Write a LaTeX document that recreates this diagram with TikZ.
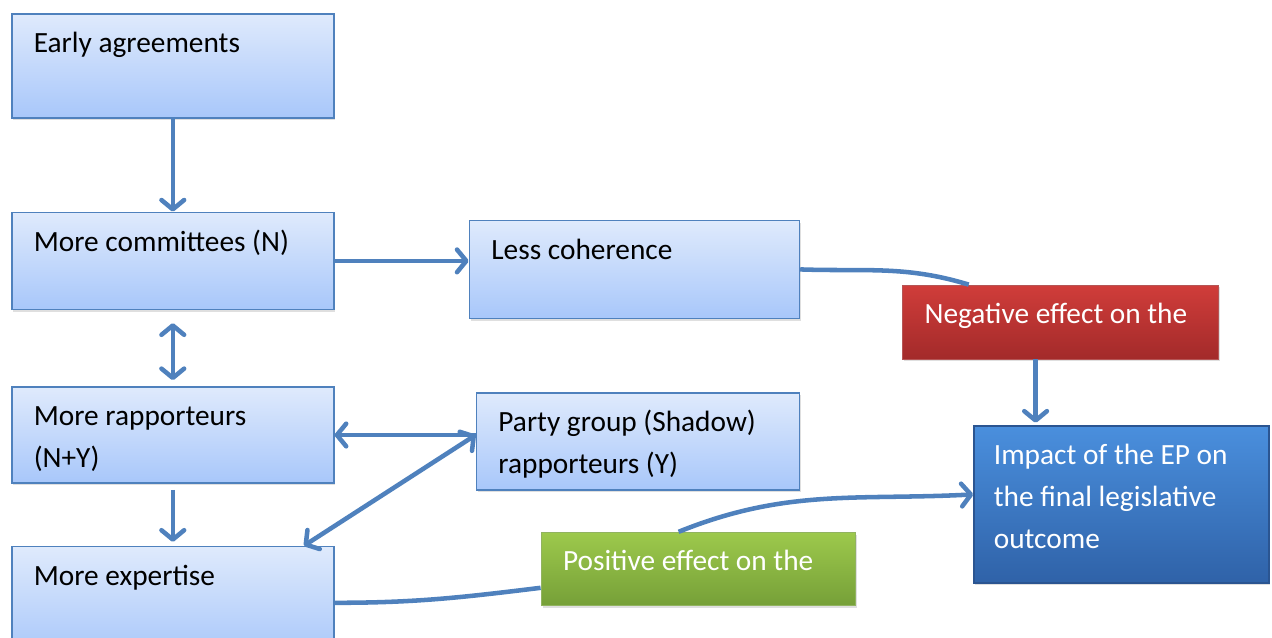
\documentclass[tikz,border=0pt]{standalone}
\usepackage{fontspec}
\setmainfont{Carlito}
\usepackage{tikz}
\usetikzlibrary{positioning, arrows.meta, calc, shadows}
\usepackage{xcolor}
\definecolor{eplight}{HTML}{DFEAFC}
\definecolor{epmid}{HTML}{A8C7FA}
\definecolor{epline}{HTML}{4F81BD}
\definecolor{epredtop}{HTML}{D03D3A}
\definecolor{epredbot}{HTML}{A32A2A}
\definecolor{epgreentop}{HTML}{9DC94C}
\definecolor{epgreenbot}{HTML}{76A038}
\definecolor{epbluetop}{HTML}{4A8FDD}
\definecolor{epbluebot}{HTML}{2F62A8}
\definecolor{epblueedge}{HTML}{2B5591}

\begin{document}
\begin{tikzpicture}[
  every node/.style={font=\fontsize{22pt}{31.5pt}\selectfont, align=left, inner xsep=16.5pt, inner ysep=0pt,
    text height=29pt, execute at begin node={\spaceskip=0pt\xspaceskip=0pt},
    drop shadow={shadow xshift=1.2pt, shadow yshift=-1.8pt, opacity=0.25}},
  stage/.style={draw=epline, line width=1.2pt, top color=eplight, bottom color=epmid, text=black},
  negbox/.style={draw=epredbot!80, line width=0.6pt, top color=epredtop, bottom color=epredbot, text=white},
  posbox/.style={draw=epgreenbot!80, line width=0.6pt, top color=epgreentop, bottom color=epgreenbot, text=white},
  impbox/.style={draw=epblueedge, line width=1pt, top color=epbluetop, bottom color=epbluebot, text=white, inner xsep=15pt},
  link/.style={line width=3.4pt, draw=epline, -{Straight Barb[length=7pt, width=17pt, round]}},
  twolink/.style={line width=3.4pt, draw=epline, {Straight Barb[length=7pt, width=17pt, round]}-{Straight Barb[length=7pt, width=17pt, round]}},
  curve/.style={line width=3.4pt, draw=epline}]
  \useasboundingbox (0,0) rectangle (954pt,-477.75pt);
  \node[stage, anchor=north west, text width=208.5pt, text depth=49pt] (early) at (8.25pt,-9.75pt) {Early agreements};
  \node[stage, below=69.75pt of early.south west, anchor=north west, text width=208.5pt, text depth=43.75pt] (com) {More committees (N)};
  \node[stage, below=57pt of com.south west, anchor=north west, text width=208.5pt, text depth=43pt] (rap) {More rapporteurs\\(N+Y)};
  \node[stage, below=46.5pt of rap.south west, anchor=north west, text width=208.5pt, text depth=53.5pt] (exp) {More expertise};
  \node[stage, right=100.5pt of com.north east, anchor=north west, yshift=-6pt, text width=214.5pt, text depth=44.5pt] (less) {Less coherence};
  \node[stage, right=105.75pt of rap.north east, anchor=north west, yshift=-4.5pt, text width=209.25pt, text depth=43.75pt] (party) {Party group (Shadow)\\rapporteurs (Y)};
  \node[negbox, right=76.5pt of less.north east, anchor=north west, yshift=-48.75pt, text width=204pt, text depth=26.5pt] (neg) {Negative effect on the};
  \node[impbox, below=49.5pt of neg.south west, anchor=north west, xshift=53.25pt, text width=191.25pt, text depth=88.75pt] (imp) {Impact of the EP on\\the final legislative\\outcome};
  \node[posbox, right=154.5pt of exp.north east, anchor=north west, yshift=10.5pt, text width=202.5pt, text depth=25.75pt] (pos) {Positive effect on the};
  \draw[link] (early) -- (com);
  \draw[link] (com.east) -- (com.east -| less.west);
  \draw[twolink, shorten <=9.75pt, shorten >=4.5pt] (com.south) -- (rap.north);
  \draw[link, shorten <=4.5pt, shorten >=3pt] (rap.south) -- (exp.north);
  \draw[link] (party.west |- rap.east) -- (rap.east);
  \draw[twolink] (party.west |- rap.east) -- ($(exp.north west)!0.905!(exp.north east)$);
  \draw[curve] (less.east) to[out=-2, in=163] ($(neg.north west)!0.21!(neg.north east)$);
  \draw[link] ([xshift=-18.75pt]neg.south) -- ([xshift=-18.75pt, yshift=2pt]neg.south |- imp.north);
  \draw[curve] ([yshift=-42.75pt]exp.north east) to[out=0, in=187] ([yshift=-42pt]pos.north west);
  \draw[link] ([xshift=103.5pt]pos.north west) to[out=22, in=183] ([yshift=-51.75pt]imp.north west);
\end{tikzpicture}
\end{document}
